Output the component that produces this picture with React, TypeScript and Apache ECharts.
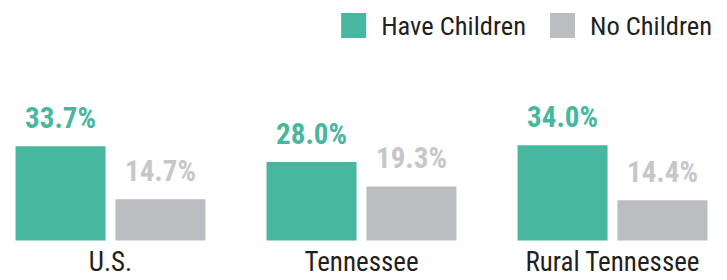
import React, { useEffect, useRef } from "react";
import * as echarts from "echarts";

const categories = ["U.S.", "Tennessee", "Rural Tennessee"];
const haveChildren = [33.7, 28.0, 34.0];
const noChildren = [14.7, 19.3, 14.4];

const GREEN = "#48B79F";
const GREY = "#BCBDC1";
const FONT = '"Roboto Condensed", Roboto, sans-serif';

export default function App() {
  const ref = useRef<HTMLDivElement>(null);
  useEffect(() => {
    document.body.style.margin = "0";
    document.body.style.overflow = "hidden";
    const c = echarts.init(ref.current!, null, { renderer: "svg" });
    const label = (color: string) => ({
      show: true,
      position: "top",
      distance: 14,
      fontFamily: FONT,
      fontWeight: "bold",
      fontSize: 29,
      color,
      formatter: (p: any) => p.value.toFixed(1) + "%",
    });
    c.setOption({
      animation: false,
      legend: {
        top: 12,
        right: 26,
        padding: 0,
        itemWidth: 25,
        itemHeight: 25,
        itemGap: 24,
        icon: "rect",
        textStyle: { fontFamily: FONT, fontSize: 26.5, color: "#231F20", padding: [0, 0, 0, 10] },
        data: ["Have Children", "No Children"],
      },
      grid: { left: 0, right: 0, top: 100.5, bottom: 39.5, containLabel: false },
      xAxis: {
        type: "category",
        data: categories,
        axisLine: { show: false },
        axisTick: { show: false },
        axisLabel: { fontFamily: FONT, fontSize: 27, color: "#231F20", margin: 8 },
      },
      yAxis: { type: "value", min: 0, max: 50, show: false, splitLine: { show: false } },
      series: [
        {
          name: "Have Children",
          type: "bar",
          data: haveChildren,
          barWidth: 90,
          barGap: "11%",
          itemStyle: { color: GREEN },
          label: label(GREEN),
        },
        {
          name: "No Children",
          type: "bar",
          data: noChildren,
          barWidth: 90,
          itemStyle: { color: GREY },
          label: label("#C6C7C9"),
        },
      ],
    });
    return () => c.dispose();
  }, []);
  return (
    <div style={{ position: "relative", width: 727, height: 280, overflow: "hidden" }}>
      <div ref={ref} style={{ position: "absolute", left: -15, top: 0, width: 753, height: 280 }} />
    </div>
  );
}
